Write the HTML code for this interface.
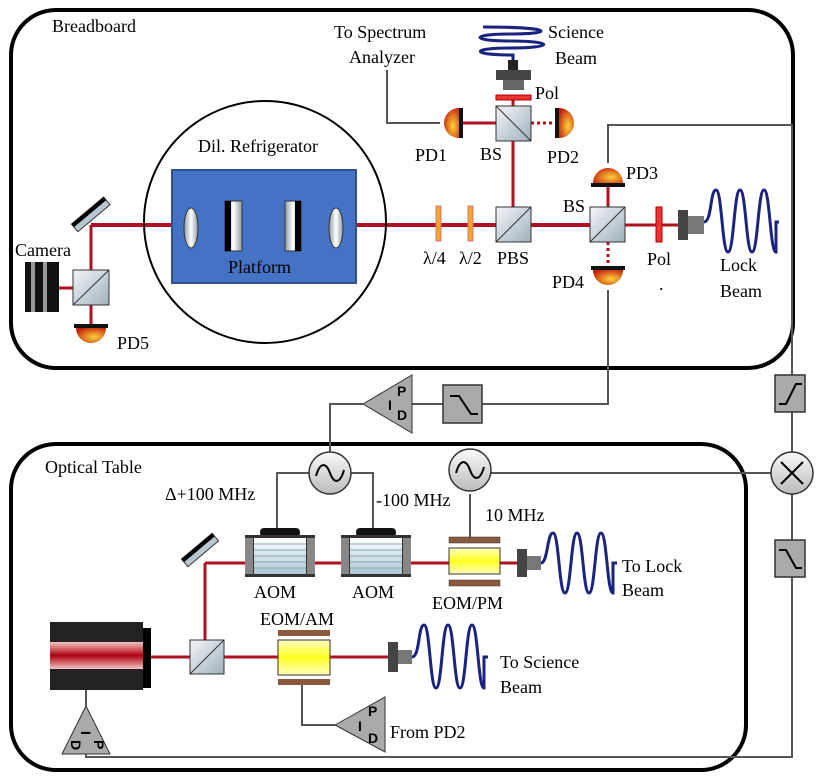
<!DOCTYPE html>
<html><head><meta charset="utf-8"><style>body{margin:0;background:#fff}svg{display:block}
svg text{font-family:"Liberation Serif","Times New Roman","DejaVu Serif",serif !important}
svg .pid text{font-family:"Liberation Sans","DejaVu Sans",sans-serif !important}</style></head><body>
<svg width="830" height="782" viewBox="0 0 830 782" xmlns="http://www.w3.org/2000/svg" font-family="Liberation Serif, Times New Roman, serif" font-size="18">
<defs>
<linearGradient id="cube" x1="0" y1="0" x2="1" y2="1"><stop offset="0" stop-color="#f4f6f8"/><stop offset="1" stop-color="#9fb0bc"/></linearGradient>
<radialGradient id="pd" cx="0.6" cy="0.6" r="0.7"><stop offset="0" stop-color="#ffd23a"/><stop offset="1" stop-color="#c21e0c"/></radialGradient>
<linearGradient id="lens" x1="0" x2="1"><stop offset="0" stop-color="#8a9aa6"/><stop offset="0.5" stop-color="#fff"/><stop offset="1" stop-color="#8a9aa6"/></linearGradient>
<linearGradient id="las" x1="0" y1="0" x2="0" y2="1"><stop offset="0" stop-color="#f3c4c4"/><stop offset="0.5" stop-color="#b00010"/><stop offset="1" stop-color="#f3c4c4"/></linearGradient>
<linearGradient id="osc" x1="0" y1="0" x2="0" y2="1"><stop offset="0" stop-color="#fafafa"/><stop offset="1" stop-color="#bbb"/></linearGradient>
<linearGradient id="aom" x1="0" y1="0" x2="0" y2="1"><stop offset="0" stop-color="#fff"/><stop offset="1" stop-color="#a9c4d8"/></linearGradient>
<linearGradient id="yel" x1="0" y1="0" x2="0" y2="1"><stop offset="0" stop-color="#ffffc0"/><stop offset="0.5" stop-color="#ffff20"/><stop offset="1" stop-color="#ffffc0"/></linearGradient>
</defs>
<rect x="11" y="10" width="782" height="358" rx="45" fill="none" stroke="#000" stroke-width="4"/>
<rect x="11" y="444" width="735" height="326" rx="45" fill="none" stroke="#000" stroke-width="4"/>
<text x="52" y="32">Breadboard</text>
<text x="45" y="473">Optical Table</text>
<g stroke="#555" stroke-width="2" fill="none">
<polyline points="440,123 387,123 387,70"/>
<polyline points="608,163 608,125 792,125 792,757 86,757 86,740"/>
<polyline points="608,290 608,404 482,404"/>
<polyline points="443,404 412,404"/>
<polyline points="363,404 330,404 330,452"/>
<polyline points="309,473 277,473 277,528"/>
<polyline points="351,473 373,473 373,528"/>
<polyline points="491,473 771,473"/>
<polyline points="470,494 470,537"/>
<polyline points="86,690 86,706"/>
<polyline points="302,685 302,725 335,725"/>
</g>
<g stroke="#b01020" fill="none">
<line x1="91" y1="225" x2="590" y2="225" stroke-width="4"/>
<line x1="91" y1="225" x2="91" y2="325" stroke-width="3"/>
<line x1="58" y1="288" x2="73" y2="288" stroke-width="3"/>
<line x1="513" y1="95" x2="513" y2="207" stroke-width="3"/>
<line x1="462" y1="123" x2="496" y2="123" stroke-width="3"/>
<line x1="531" y1="123" x2="555" y2="123" stroke-width="3" stroke-dasharray="3,3"/>
<line x1="625" y1="225" x2="680" y2="225" stroke-width="3"/>
<line x1="608" y1="185" x2="608" y2="207" stroke-width="3"/>
<line x1="608" y1="242" x2="608" y2="267" stroke-width="3" stroke-dasharray="3,3"/>
<line x1="205" y1="563" x2="520" y2="563" stroke-width="3"/>
<line x1="205" y1="563" x2="205" y2="640" stroke-width="3"/>
<line x1="150" y1="657" x2="390" y2="657" stroke-width="3"/>
</g>
<circle cx="265" cy="222" r="121" fill="none" stroke="#000" stroke-width="2"/>
<text x="198" y="152">Dil. Refrigerator</text>
<rect x="172" y="170" width="184" height="113" fill="#4472c4" stroke="#2f528f" stroke-width="2"/>
<text x="228" y="273">Platform</text>
<ellipse cx="191" cy="228" rx="7" ry="20" fill="url(#lens)" stroke="#333"/>
<rect x="225" y="201" width="17" height="50" fill="url(#lens)" stroke="#333"/><rect x="225" y="201" width="6" height="50" fill="#000"/>
<rect x="285" y="201" width="16" height="50" fill="url(#lens)" stroke="#333"/><rect x="295" y="201" width="6" height="50" fill="#000"/>
<ellipse cx="336" cy="228" rx="7" ry="20" fill="url(#lens)" stroke="#333"/>
<g transform="rotate(-40 90 215)"><rect x="70" y="210" width="42" height="10" fill="#b8c6d0" stroke="#333"/><rect x="70" y="210" width="42" height="4" fill="#000"/></g>
<text x="15" y="256">Camera</text>
<rect x="25" y="262" width="34" height="50" fill="#111"/>
<rect x="31" y="262" width="4" height="50" fill="#999"/><rect x="43" y="262" width="4" height="50" fill="#999"/>
<rect x="73" y="270" width="36" height="35" fill="url(#cube)" stroke="#333"/><line x1="73" y1="305" x2="109" y2="270" stroke="#333"/>
<rect x="74" y="324" width="34" height="4" fill="#111"/><path d="M76,328 h30 a15,15 0 0 1 -30,0z" fill="url(#pd)"/>
<text x="117" y="349">PD5</text>
<rect x="436" y="206" width="5" height="35" fill="#f5a623" stroke="#c77"/><rect x="468" y="206" width="5" height="35" fill="#f5a623" stroke="#c77"/>
<text x="423" y="264">λ/4</text><text x="459" y="264">λ/2</text>
<rect x="496" y="207" width="35" height="35" fill="url(#cube)" stroke="#333"/><line x1="496" y1="242" x2="531" y2="207" stroke="#333"/>
<text x="497" y="264">PBS</text>
<rect x="496" y="106" width="35" height="35" fill="url(#cube)" stroke="#333"/><line x1="496" y1="106" x2="531" y2="141" stroke="#333"/>
<text x="480" y="160">BS</text>
<rect x="496" y="95" width="35" height="5" fill="#e33" stroke="#a00"/>
<text x="535" y="99">Pol</text>
<rect x="496" y="70" width="35" height="10" fill="#444"/><rect x="503" y="80" width="21" height="10" fill="#666"/><rect x="508" y="60" width="10" height="10" fill="#222"/>
<path d="M513,60 V55 C470,55 470,48 510,48 C555,48 555,41 510,41 C470,41 470,34 510,34 C555,34 555,27 483,27" fill="none" stroke="#1a237e" stroke-width="3"/>
<text x="548" y="38">Science</text><text x="555" y="64">Beam</text>
<text x="334" y="38">To Spectrum</text><text x="349" y="63">Analyzer</text>
<rect x="459" y="108" width="4" height="30" fill="#111"/><path d="M459,108 v30 a15,15 0 0 1 0,-30z" fill="url(#pd)"/>
<text x="415" y="161">PD1</text>
<rect x="555" y="108" width="4" height="30" fill="#111"/><path d="M559,108 v30 a15,15 0 0 0 0,-30z" fill="url(#pd)"/>
<text x="547" y="163">PD2</text>
<rect x="590" y="207" width="35" height="35" fill="url(#cube)" stroke="#333"/><line x1="590" y1="242" x2="625" y2="207" stroke="#333"/>
<text x="563" y="212">BS</text>
<rect x="591" y="183" width="34" height="4" fill="#111"/><path d="M593,183 h30 a15,15 0 0 0 -30,0z" fill="url(#pd)"/>
<text x="626" y="179">PD3</text>
<rect x="591" y="266" width="34" height="4" fill="#111"/><path d="M593,270 h30 a15,15 0 0 1 -30,0z" fill="url(#pd)"/>
<text x="552" y="288">PD4</text>
<rect x="656" y="207" width="6" height="35" fill="#e33" stroke="#a00"/>
<text x="647" y="265">Pol</text><text x="659" y="290">.</text>
<rect x="678" y="210" width="10" height="30" fill="#444"/><rect x="688" y="216" width="16" height="18" fill="#777"/>
<path d="M704,222 C712,222 710,190 716,190 C722,190 722,252 728,252 C734,252 734,190 740,190 C746,190 746,252 752,252 C758,252 758,190 764,190 C770,190 770,252 776,252 V222 h3" fill="none" stroke="#1a237e" stroke-width="3"/>
<text x="720" y="271">Lock</text><text x="720" y="297">Beam</text>
<g stroke="#333" stroke-width="1.5">
<rect x="443" y="385" width="39" height="38" fill="#aaa"/>
<rect x="775" y="375" width="30" height="37" fill="#aaa"/>
<rect x="775" y="540" width="30" height="37" fill="#aaa"/>
</g>
<path d="M450,396 h9 l12,18 h7" fill="none" stroke="#000" stroke-width="2"/>
<path d="M779,404 h7 l10,-20 h6" fill="none" stroke="#000" stroke-width="2"/>
<path d="M779,550 h7 l10,18 h6" fill="none" stroke="#000" stroke-width="2"/>
<g class="pid" font-family="Liberation Sans, sans-serif" font-weight="bold" font-size="14">
<polygon points="363,404 412,375 412,433" fill="#aaa" stroke="#333"/>
<text x="388" y="410">I</text><text x="397" y="396">P</text><text x="397" y="420">D</text>
<polygon points="335,725 385,697 385,752" fill="#aaa" stroke="#333"/>
<text x="358" y="731">I</text><text x="368" y="716">P</text><text x="368" y="743">D</text>
<polygon points="86,706 62,754 110,754" fill="#aaa" stroke="#333"/>
<g transform="rotate(90 86 738)"><text x="79" y="743">I</text><text x="88" y="730">P</text><text x="88" y="753">D</text></g>
</g>
<text x="390" y="738">From PD2</text>
<g stroke="#333" stroke-width="1.5" fill="url(#osc)"><circle cx="330" cy="473" r="21"/><circle cx="470" cy="470" r="21"/><circle cx="792" cy="473" r="21"/></g>
<path d="M316,476 c4,-14 10,-14 14,-3 c4,11 10,11 14,-3" fill="none" stroke="#000" stroke-width="2"/>
<path d="M456,473 c4,-14 10,-14 14,-3 c4,11 10,11 14,-3" fill="none" stroke="#000" stroke-width="2"/>
<path d="M781,462 l22,22 M803,462 l-22,22" stroke="#000" stroke-width="2"/>
<text x="165" y="500">Δ+100 MHz</text><text x="376" y="506">-100 MHz</text><text x="485" y="521">10 MHz</text>
<g transform="rotate(-40 200 550)"><rect x="180" y="545" width="40" height="10" fill="#b8c6d0" stroke="#333"/><rect x="180" y="545" width="40" height="4" fill="#000"/></g>
<g id="aom1">
<rect x="260" y="528" width="40" height="9" rx="4" fill="#111"/>
<rect x="245" y="535" width="70" height="42" fill="#333"/>
<rect x="254" y="538" width="52" height="36" fill="url(#aom)"/>
<g stroke="#8aa" stroke-width="1"><line x1="254" y1="544" x2="306" y2="544"/><line x1="254" y1="550" x2="306" y2="550"/><line x1="254" y1="556" x2="306" y2="556"/><line x1="254" y1="562" x2="306" y2="562"/><line x1="254" y1="568" x2="306" y2="568"/></g>
<rect x="245" y="538" width="8" height="36" fill="#888"/><rect x="307" y="538" width="8" height="36" fill="#888"/>
</g>
<use href="#aom1" transform="translate(96 0)"/>
<text x="254" y="598">AOM</text><text x="352" y="598">AOM</text>
<rect x="449" y="537" width="51" height="6" fill="#8b5a3c" stroke="#333" stroke-width="0.5"/><rect x="449" y="548" width="51" height="26" fill="url(#yel)" stroke="#333"/><rect x="449" y="580" width="51" height="6" fill="#8b5a3c" stroke="#333" stroke-width="0.5"/>
<text x="432" y="609">EOM/PM</text>
<rect x="517" y="549" width="10" height="28" fill="#444"/><rect x="527" y="556" width="14" height="14" fill="#777"/>
<path d="M541,563 C548,563 547,533 553,533 C559,533 559,593 565,593 C571,593 571,533 577,533 C583,533 583,593 589,593 C595,593 595,533 601,533 C607,533 607,593 613,593 V563 h4" fill="none" stroke="#1a237e" stroke-width="3"/>
<text x="622" y="572">To Lock</text><text x="622" y="596">Beam</text>
<rect x="50" y="622" width="93" height="68" fill="#222"/><rect x="143" y="628" width="8" height="60" fill="#000"/>
<rect x="50" y="642" width="93" height="27" fill="url(#las)"/>
<rect x="190" y="640" width="34" height="34" fill="url(#cube)" stroke="#333"/><line x1="190" y1="674" x2="224" y2="640" stroke="#333"/>
<rect x="278" y="630" width="52" height="6" fill="#8b5a3c"/><rect x="278" y="640" width="52" height="35" fill="url(#yel)" stroke="#333"/><rect x="278" y="679" width="52" height="6" fill="#8b5a3c"/>
<text x="260" y="625">EOM/AM</text>
<rect x="388" y="642" width="10" height="30" fill="#444"/><rect x="398" y="650" width="14" height="14" fill="#777"/>
<path d="M412,657 C420,657 418,625 424,625 C430,625 430,688 436,688 C442,688 442,625 448,625 C454,625 454,688 460,688 C466,688 466,625 472,625 C478,625 478,688 484,688 V657 h4" fill="none" stroke="#1a237e" stroke-width="3"/>
<text x="500" y="668">To Science</text><text x="500" y="693">Beam</text>
</svg>
</body></html>
